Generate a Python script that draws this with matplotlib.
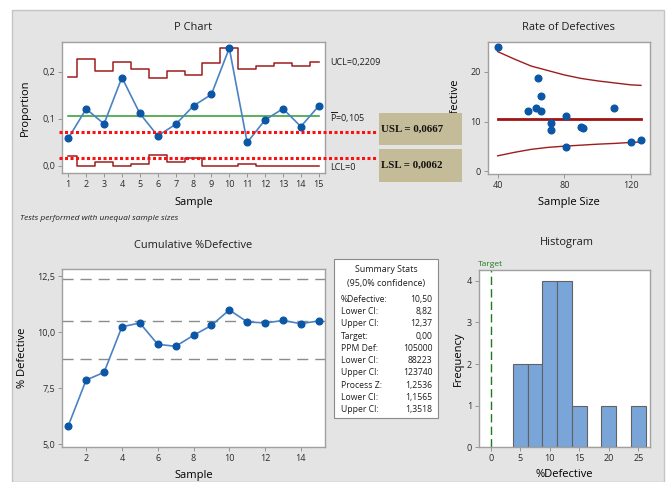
import matplotlib
matplotlib.use('Agg')
import matplotlib.pyplot as plt
from matplotlib.patches import Rectangle

plt.rcParams['font.family'] = ['Open Sans', 'DejaVu Sans']
plt.rcParams['mathtext.fontset'] = 'custom'
plt.rcParams['mathtext.rm'] = 'Open Sans'

W, H = 668, 482

# data
samples = list(range(1, 16))
sample_size = [120, 58, 90, 64, 81, 126, 91, 110, 66, 40, 81, 72, 66, 72, 63]
pct_defective = [5.83, 12.07, 8.89, 18.75, 11.11, 6.35, 8.79, 12.73, 15.15,
                 25.00, 4.94, 9.72, 12.12, 8.33, 12.70]
ucl = [0.189, 0.226, 0.202, 0.221, 0.206, 0.187, 0.202, 0.193, 0.218,
       0.251, 0.206, 0.212, 0.218, 0.212, 0.221]
lcl = [0.021, 0.0, 0.007, 0.0, 0.004, 0.022, 0.008, 0.017, 0.0,
       0.0, 0.004, 0.0, 0.0, 0.0, 0.0]
p_bar = 0.105
cum_pct = [5.83, 7.87, 8.21, 10.24, 10.41, 9.46, 9.37, 9.86, 10.30,
           10.99, 10.46, 10.41, 10.52, 10.38, 10.50]
ci_lines = [8.82, 10.50, 12.37]
rate_n = [40, 50, 60, 70, 80, 90, 100, 110, 120, 126]
rate_upper = [24.1, 22.6, 21.2, 20.3, 19.4, 18.7, 18.2, 17.8, 17.4, 17.3]
rate_lower = [3.1, 3.8, 4.4, 4.8, 5.05, 5.25, 5.45, 5.6, 5.8, 5.9]
hist_centers = [5, 7.5, 10, 12.5, 15, 17.5, 20, 22.5, 25]
hist_counts = [2, 2, 4, 4, 1, 0, 1, 0, 1]
usl_level = 0.071   # where the dotted USL overlay crosses the P chart
lsl_level = 0.017

stats_rows = [('%Defective:', '10,50'), ('Lower CI:', '8,82'), ('Upper CI:', '12,37'),
              ('Target:', '0,00'), ('PPM Def:', '105000'), ('Lower CI:', '88223'),
              ('Upper CI:', '123740'), ('Process Z:', '1,2536'), ('Lower CI:', '1,1565'),
              ('Upper CI:', '1,3518')]

BLUE = '#0b57a6'
LINE_BLUE = '#4a82c4'
DRED = '#9e1c1c'
TXT = '#1e1e1e'
MS = 4.8
TITLE_FS = 7.9


def px_rect(l, t, r, b):
    return [l / W, 1 - b / H, (r - l) / W, (b - t) / H]


def ftext(x, y, s, **kw):
    kw.setdefault('color', TXT)
    return fig.text(x / W, 1 - y / H, s, **kw)


def style(ax):
    for sp in ax.spines.values():
        sp.set_color('#a0a0a0')
        sp.set_linewidth(1.0)
    ax.tick_params(labelsize=6.5, length=3, width=0.6, colors='#888888',
                   labelcolor='#2a2a2a', pad=2)


def comma(v, fmt):
    return (fmt % v).replace('.', ',')


fig = plt.figure(figsize=(W / 100, H / 100), dpi=100)
fig.patches.append(Rectangle((12 / W, 0), 652 / W, 1 - 10 / H, transform=fig.transFigure,
                             facecolor='#e4e4e4', edgecolor='#c4c4c4', lw=1, zorder=-5))

# ---- P chart
ax1 = fig.add_axes(px_rect(62, 42, 325, 173))
style(ax1)
ax1.step(samples, ucl, where='mid', color=DRED, lw=1.1)
ax1.step(samples, lcl, where='mid', color=DRED, lw=1.1)
ax1.axhline(p_bar, xmin=(1 - 0.65) / 14.7, xmax=(15 - 0.65) / 14.7, color='#2f9a2f', lw=1.1)
ax1.plot(samples, [v / 100 for v in pct_defective], color=LINE_BLUE, lw=1.2,
         marker='o', ms=MS, mfc=BLUE, mec=BLUE)
ax1.set_xlim(0.65, 15.35)
ax1.set_ylim(-0.0155, 0.263)
ax1.set_xticks(samples)
ax1.set_yticks([0, 0.1, 0.2])
ax1.set_yticklabels([comma(v, '%.1f') for v in [0, 0.1, 0.2]])
ax1.set_xlabel('Sample', fontsize=8)
ax1.set_ylabel('Proportion', fontsize=8)
ax1.xaxis.set_label_coords(0.5, -0.185)
ax1.yaxis.set_label_coords(-0.118, 0.5)
for lvl in [usl_level, lsl_level]:
    ax1.plot([0.5, 18.28], [lvl, lvl], color='#ff1010', lw=2.2,
             linestyle=(0, (1, 0.8)), clip_on=False, zorder=5)
ftext(193, 28, 'P Chart', fontsize=TITLE_FS, ha='center', va='center')
ftext(330, 62, 'UCL=0,2209', fontsize=6.5, va='center')
ftext(330, 118, r'$\overline{\mathrm{P}}$=0,105', fontsize=6.5, va='center')
ftext(330, 167, 'LCL=0', fontsize=6.5, va='center')
ftext(20, 218, 'Tests performed with unequal sample sizes', fontsize=6,
      style='italic', va='center')

# ---- Rate of defectives
ax2 = fig.add_axes(px_rect(487.7, 41.7, 650, 173.7))
style(ax2)
ax2.plot(rate_n, rate_upper, color=DRED, lw=1.0)
ax2.plot(rate_n, rate_lower, color=DRED, lw=1.0)
ax2.plot([rate_n[0], rate_n[-1]], [p_bar * 100, p_bar * 100], color='#a01414', lw=2)
ax2.plot(sample_size, pct_defective, 'o', ms=MS, color=BLUE, zorder=4)
ax2.set_xlim(34, 131.4)
ax2.set_ylim(-0.5, 26.1)
ax2.set_xticks([40, 80, 120])
ax2.set_yticks([0, 10, 20])
ax2.set_xlabel('Sample Size', fontsize=8)
ax2.set_ylabel('%Defective', fontsize=8)
ax2.xaxis.set_label_coords(0.5, -0.175)
ax2.yaxis.set_label_coords(-0.166, 0.5)
ftext(568, 28, 'Rate of Defectives', fontsize=TITLE_FS, ha='center', va='center')

# ---- USL / LSL boxes
for top, bot, lab in [(112.7, 144.5, 'USL = 0,0667'), (149, 181.5, 'LSL = 0,0062')]:
    fig.patches.append(Rectangle((379 / W, 1 - bot / H), 82.7 / W, (bot - top) / H,
                                 transform=fig.transFigure, facecolor='#c4bc98',
                                 edgecolor='none', zorder=6))
    t = ftext(381, (top + bot) / 2 + 0.5, lab, fontsize=7.8, fontweight='bold',
              family='Liberation Serif', va='center', color='#111111')
    t.set_zorder(7)

# ---- Cumulative %Defective
ax3 = fig.add_axes(px_rect(62, 269.3, 325, 446.7))
style(ax3)
for v in ci_lines:
    ax3.axhline(v, color='#8c8c8c', lw=1, linestyle=(0, (8, 5)))
ax3.plot(samples, cum_pct, color=LINE_BLUE, lw=1.2, marker='o', ms=MS,
         mfc=BLUE, mec=BLUE, zorder=4)
ax3.set_xlim(0.65, 15.35)
ax3.set_ylim(4.9, 12.8)
ax3.set_xticks(range(2, 16, 2))
ax3.set_yticks([5, 7.5, 10, 12.5])
ax3.set_yticklabels([comma(v, '%.1f') for v in [5, 7.5, 10, 12.5]])
ax3.set_xlabel('Sample', fontsize=8)
ax3.set_ylabel('% Defective', fontsize=8)
ax3.xaxis.set_label_coords(0.5, -0.13)
ax3.yaxis.set_label_coords(-0.131, 0.5)
ftext(193, 245, 'Cumulative %Defective', fontsize=TITLE_FS, ha='center', va='center')

# ---- Summary stats box
fig.patches.append(Rectangle((334.3 / W, 1 - 418.3 / H), 104 / W, 159 / H,
                             transform=fig.transFigure, facecolor='white',
                             edgecolor='#8a8a8a', lw=0.8, zorder=1))
ftext(386, 269, 'Summary Stats', fontsize=6.4, ha='center', va='center')
ftext(386, 283.3, '(95,0% confidence)', fontsize=6.4, ha='center', va='center')
for i, (k, v) in enumerate(stats_rows):
    y = 299.3 + i * 12.27
    ftext(340.7, y, k, fontsize=6.2, va='center')
    ftext(432.3, y, v, fontsize=6.2, ha='right', va='center')

# ---- Histogram
ax4 = fig.add_axes(px_rect(479, 270, 650, 447.3))
style(ax4)
ax4.bar(hist_centers, hist_counts, width=2.5, color='#7aa5d8', edgecolor='#626262', lw=0.8)
ax4.axvline(0, color='#1d7a1d', lw=1, linestyle=(0, (6, 3)))
ax4.set_xlim(-2, 27)
ax4.set_ylim(0, 4.26)
ax4.set_xticks([0, 5, 10, 15, 20, 25])
ax4.set_yticks([0, 1, 2, 3, 4])
ax4.set_xlabel('%Defective', fontsize=8)
ax4.set_ylabel('Frequency', fontsize=8)
ax4.xaxis.set_label_coords(0.5, -0.124)
ax4.yaxis.set_label_coords(-0.088, 0.5)
ax4.text(0, 1.01, 'Target', transform=ax4.get_xaxis_transform(), fontsize=6,
         color='#1d7a1d', ha='center', va='bottom')
ftext(567, 243, 'Histogram', fontsize=TITLE_FS, ha='center', va='center')

fig.savefig('out.png', dpi=100)
